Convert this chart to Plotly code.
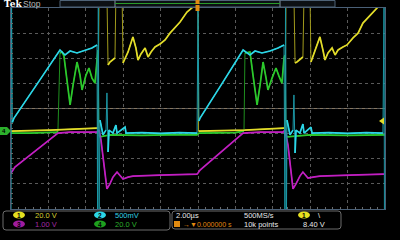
import plotly.graph_objects as go

# ---- data: time in microseconds (2 us/div), amplitude in screen divisions ----
ch1_t = [-10.0, -7.9, -5.40, -5.35, -5.29, -4.87, -4.81, -4.71, -4.44, -4.39, -4.06, -4.01, -3.74, -3.48, -3.32, -3.21,
         -3.05, -2.83, -2.67, -2.51, -2.30, -2.03, -1.76, -1.50, -1.23, -0.96, -0.59, -0.27, -0.05, 0.0, 0.03, 2.5,
         4.60, 4.65, 4.71, 5.13, 5.19, 5.29, 5.61, 5.67, 5.99, 6.04, 6.26, 6.52, 6.68, 6.79, 6.95, 7.17, 7.33, 7.49,
         7.75, 7.97, 8.29, 8.56, 8.82, 9.20, 9.57, 9.95]
ch1_y = [-0.90, -0.86, -0.78, -0.78, 4.6, 4.6, 1.73, 1.85, 2.01, 4.6, 4.6, 1.81, 2.25, 2.85, 2.41, 1.93,
         2.17, 2.41, 2.05, 2.25, 2.45, 2.57, 2.73, 3.00, 3.20, 3.44, 3.84, 4.04, 4.3, 4.3, -0.90, -0.86,
         -0.78, -0.78, 4.6, 4.6, 1.81, 1.85, 2.05, 4.6, 4.6, 1.85, 2.33, 2.85, 2.33, 1.93, 2.21, 2.41, 2.13, 2.33,
         2.45, 2.53, 2.81, 3.00, 3.40, 3.72, 4.04, 4.3]

ch2_t = [-10.0, -9.97, -9.93, -9.89, -9.84, -8.5, -7.38, -7.11, -6.84, -6.47, -6.04, -5.67, -5.40, -5.37, -5.33,
         -5.29, -5.24, -5.08, -4.92, -4.87, -4.81, -4.76, -4.55, -4.39, -4.33, -3.90, -3.85, -3.0, -2.0, -1.0,
         -0.05, 0.0, 0.05, 0.11, 1.3, 2.41, 2.78, 3.05, 3.42, 3.85, 4.28, 4.60, 4.65, 4.68, 4.73, 4.76, 4.92,
         5.08, 5.13, 5.19, 5.24, 5.45, 5.61, 5.67, 6.04, 6.10, 7.0, 8.0, 9.0, 9.89, 9.95, 9.97]
ch2_y = [-4.3, 4.3, -0.55, -0.46, -0.38, 1.09, 2.33, 2.13, 2.29, 2.21, 2.33, 2.41, 2.53, -4.3, 4.3,
         -4.3, -0.46, -1.05, -0.86, 0.62, -1.73, -0.86, -0.98, -0.66, -0.98, -0.74, -0.98, -0.96, -0.99, -0.96,
         -0.98, 4.3, -0.50, -0.38, 1.01, 2.33, 2.13, 2.29, 2.21, 2.29, 2.41, 2.53, -4.3, 4.3, -4.3, -0.46, -1.05,
         -0.86, 0.54, -1.77, -0.86, -0.98, -0.62, -0.98, -0.74, -0.98, -0.96, -0.99, -0.96, -0.98, 4.3, -4.3]

ch3_t = [-10.0, -9.89, -9.79, -7.49, -6.84, -5.40, -5.29, -5.19, -5.08, -4.97, -4.87, -4.71, -4.55, -4.33, -4.17,
         -4.01, -3.74, -3.48, -2.03, -0.05, 0.0, 0.11, 2.41, 3.32, 4.55, 4.65, 4.81, 4.92, 5.08, 5.24, 5.45, 5.61,
         5.78, 5.88, 6.15, 6.52, 8.13, 9.95]
ch3_y = [-2.57, -2.45, -2.33, -0.98, -0.94, -0.94, -0.86, -1.25, -1.85, -2.65, -3.20, -3.00, -2.73, -2.53, -2.69,
         -2.81, -2.73, -2.69, -2.65, -2.61, -2.57, -2.45, -0.98, -0.94, -0.94, -0.86, -1.45, -2.25, -3.20, -3.00,
         -2.69, -2.53, -2.69, -2.77, -2.73, -2.69, -2.65, -2.61]

ch4_t = [-10.0, -8.98, -7.54, -7.49, -7.38, -7.27, -7.17, -7.01, -6.84, -6.68, -6.47, -6.31, -6.20, -5.99, -5.83,
         -5.67, -5.51, -5.40, -5.35, -5.29, -5.24, -4.71, -3.0, -1.0, -0.05, 0.05, 2.0, 2.46, 2.51, 2.78, 2.94,
         3.16, 3.32, 3.48, 3.64, 3.74, 3.96, 4.17, 4.33, 4.49, 4.60, 4.65, 4.71, 4.76, 6.0, 8.0, 10.0]
ch4_y = [-0.98, -0.98, -0.94, -0.90, 2.21, 2.25, 2.09, 1.13, 0.14, 0.94, 1.85, 1.33, 0.74, 1.33, 1.61,
         1.21, 1.01, 1.93, 2.33, -1.05, -1.13, -1.05, -1.07, -1.04, -1.05, -0.98, -0.96, -0.90, 2.21, 2.25, 1.33,
         0.14, 0.94, 1.85, 1.21, 0.74, 1.21, 1.61, 1.29, 1.01, 2.01, 2.13, -1.05, -1.13, -1.05, -1.07, -1.05]

channels = [
    (ch4_t, ch4_y, "#2cc82c", "#1f8f1f"),
    (ch1_t, ch1_y, "#e2dc2a", "#a09a1c"),
    (ch3_t, ch3_y, "#c21fc2", "#8c168c"),
    (ch2_t, ch2_y, "#2cd6e6", "#1c98a6"),
]


def slow_parts(t, y, limit=20.0):
    """Break the line wherever the trace is a fast (near vertical) transition."""
    xs, ys = [t[0]], [y[0]]
    for i in range(1, len(t)):
        dt = max(t[i] - t[i - 1], 1e-6)
        if abs(y[i] - y[i - 1]) / dt > limit:
            xs.append(None)
            ys.append(None)
        xs.append(t[i])
        ys.append(y[i])
    return xs, ys


fig = go.Figure()
for t, y, bright, dim in channels:
    fig.add_trace(go.Scatter(x=t, y=y, mode="lines", line=dict(color=dim, width=1), hoverinfo="skip"))
    sx, sy = slow_parts(t, y)
    fig.add_trace(go.Scatter(x=sx, y=sy, mode="lines", line=dict(color=bright, width=1.7),
                             connectgaps=False, hoverinfo="skip"))

# ---- layout helpers (pixel -> paper) ----
L, R, T, B = 11, 385, 8, 209
def px(x):
    return (x - L) / (R - L)
def py(y):
    return (B - y) / (B - T)

shapes = []
ann = []

def rect(x0, y0, x1, y1, line=None, fill=None, lw=1):
    shapes.append(dict(type="rect", xref="paper", yref="paper", x0=px(x0), x1=px(x1), y0=py(y0), y1=py(y1),
                       line=dict(color=line or "rgba(0,0,0,0)", width=lw if line else 0),
                       fillcolor=fill or "rgba(0,0,0,0)", layer="above"))

def rrect(x0, y0, x1, y1, r, color):
    pts = (f"M {px(x0+r)},{py(y0)} L {px(x1-r)},{py(y0)} Q {px(x1)},{py(y0)} {px(x1)},{py(y0+r)} "
           f"L {px(x1)},{py(y1-r)} Q {px(x1)},{py(y1)} {px(x1-r)},{py(y1)} L {px(x0+r)},{py(y1)} "
           f"Q {px(x0)},{py(y1)} {px(x0)},{py(y1-r)} L {px(x0)},{py(y0+r)} Q {px(x0)},{py(y0)} {px(x0+r)},{py(y0)} Z")
    shapes.append(dict(type="path", xref="paper", yref="paper", path=pts, line=dict(color=color, width=1),
                       fillcolor="rgba(0,0,0,0)", layer="above"))

def ell(cx, cy, w, h, fill):
    shapes.append(dict(type="circle", xref="paper", yref="paper", x0=px(cx-w/2), x1=px(cx+w/2),
                       y0=py(cy+h/2), y1=py(cy-h/2), line=dict(width=0), fillcolor=fill, layer="above"))

def poly(pts, fill):
    p = "M " + " L ".join(f"{px(a)},{py(b)}" for a, b in pts) + " Z"
    shapes.append(dict(type="path", xref="paper", yref="paper", path=p, line=dict(width=0),
                       fillcolor=fill, layer="above"))

def text(x, y, s, color, size=7.5, anchor="left", family="Liberation Sans", bold=False):
    if bold:
        s = "<b>" + s + "</b>"
    ann.append(dict(x=px(x), y=py(y), xref="paper", yref="paper", text=s, showarrow=False,
                    xanchor=anchor, yanchor="middle", font=dict(color=color, size=size, family=family)))

# center crosshair line
shapes.append(dict(type="line", xref="paper", yref="y", x0=0, x1=1, y0=0, y1=0,
                   line=dict(color="#857560", width=1), layer="below"))

# top status bar
text(2, 4.5, "Tek", "#ffffff", 9, family="DejaVu Serif", bold=True)
text(21, 4.5, "Stop", "#b8b8b8", 8.5)
rect(60, 0.5, 335, 7, line="#4f6377", fill="#0c1014")
shapes.append(dict(type="line", xref="paper", yref="paper", x0=px(115), x1=px(115), y0=py(0.5), y1=py(7),
                   line=dict(color="#8090a0", width=1), layer="above"))
shapes.append(dict(type="line", xref="paper", yref="paper", x0=px(280), x1=px(280), y0=py(0.5), y1=py(7),
                   line=dict(color="#8090a0", width=1), layer="above"))
shapes.append(dict(type="line", xref="paper", yref="paper", x0=px(115), x1=px(280), y0=py(3.5), y1=py(3.5),
                   line=dict(color="#2a9a2a", width=1), layer="above"))
rect(195.5, 0, 199.5, 4, fill="#e08a10")
rect(195.5, 5, 199.5, 11, fill="#e08a10")

# ground marker ch4 and trigger level arrow
poly([(0, 127), (7, 127), (11, 131), (7, 135), (0, 135)], "#2cb02c")
text(4, 131, "4", "#000000", 6, anchor="center", bold=True)
poly([(379, 121), (384, 117.5), (384, 124.5)], "#e2dc2a")

# bottom info boxes
rrect(3, 211, 170, 230, 3, "#6c6c6c")
rrect(172, 211, 341, 229, 3, "#6c6c6c")
ell(19, 215, 12, 7, "#e6e020")
text(19, 215.3, "1", "#000000", 6.5, anchor="center", bold=True)
ell(19, 224, 12, 7, "#a01ca0")
text(19, 224.3, "3", "#000000", 6.5, anchor="center", bold=True)
ell(100, 215, 12, 7, "#2cd6e6")
text(100, 215.3, "2", "#000000", 6.5, anchor="center", bold=True)
ell(100, 224, 12, 7, "#1ea01e")
text(100, 224.3, "4", "#000000", 6.5, anchor="center", bold=True)
text(33, 215, "20.0 V", "#d8d030")
text(33, 224, "1.00 V", "#a32aa3")
text(113, 215, "500mV", "#30d0e0")
text(113, 224, "20.0 V", "#2cb02c")
text(174, 215, "2.00µs", "#e8e8e8")
text(242, 215, "500MS/s", "#e8e8e8")
text(242, 224, "10k points", "#e8e8e8")
ell(304, 215, 12, 7, "#e6e020")
text(304, 215.3, "1", "#000000", 6.5, anchor="center", bold=True)
text(316, 215, "\\", "#e8e8e8")
text(301, 224, "8.40 V", "#e8e8e8")
rect(174, 221, 180, 227, fill="#e08a10")
text(181, 224, "→▼0.000000 s", "#e08a10", 7)

axis_common = dict(showticklabels=False, zeroline=False, showline=True, linecolor="#4a6078", linewidth=1,
                   mirror=True, gridcolor="#5a5a5a", griddash="dot", gridwidth=1, ticks="")
fig.update_layout(
    width=400, height=240, margin=dict(l=L, r=400 - R, t=T, b=240 - B),
    paper_bgcolor="#000000", plot_bgcolor="#000000", showlegend=False,
    xaxis=dict(range=[-10, 10], tick0=-10, dtick=2,
               minor=dict(dtick=0.4, ticks="inside", ticklen=2, tickcolor="#6a6a6a", showgrid=False),
               **axis_common),
    yaxis=dict(range=[-4, 4], tick0=-4, dtick=1,
               minor=dict(dtick=0.2, ticks="inside", ticklen=2, tickcolor="#6a6a6a", showgrid=False),
               **axis_common),
    shapes=shapes, annotations=ann,
)
fig.write_html("out.html")
